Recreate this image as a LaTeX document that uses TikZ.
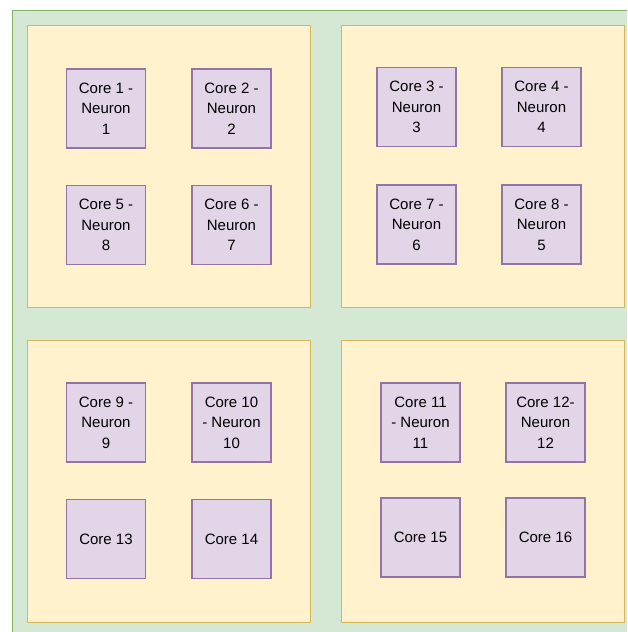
\documentclass[tikz,border=0pt]{standalone}
\usepackage{fontspec}
\setmainfont{Liberation Sans}
\definecolor{boardfill}{HTML}{D5E8D4}
\definecolor{boarddraw}{HTML}{82B366}
\definecolor{chipfill}{HTML}{FFF2CC}
\definecolor{chipdraw}{HTML}{D6B656}
\definecolor{corefill}{HTML}{E1D5E7}
\definecolor{coredraw}{HTML}{9673A6}
\tikzset{%
  every board/.style={
    rectangle,
    draw=boarddraw,
    fill=boardfill,
    line width=1pt,
    inner sep=0pt
  },
  every chip/.style={
    rectangle,
    draw=chipdraw,
    fill=chipfill,
    line width=1pt,
    minimum width=283pt,
    minimum height=282pt,
    inner sep=0pt
  },
  every core/.style={
    rectangle,
    draw=coredraw,
    fill=corefill,
    line width=1.1pt,
    minimum width=79pt,
    minimum height=79pt,
    inner sep=0pt,
    align=center,
    text=black,
    font=\fontsize{15}{20.5}\selectfont
  },
}

\begin{document}
\begin{tikzpicture}[x=1pt,y=-1pt]
  \useasboundingbox (0,0) rectangle (627,632);
  \clip (0,0) rectangle (627,632);
  \node [every board, minimum width=630pt, minimum height=635pt] (board) at (327,327.5) { };
  \node [every chip] (chip-1) at (168.5,166) { };
  \node [every chip] (chip-2) at (483,166) { };
  \node [every chip] (chip-3) at (168.5,481) { };
  \node [every chip] (chip-4) at (483,481) { };
  % top left
  \node [every core] (c-1) at (106,108.5) {Core 1 -\\Neuron\\1};
  \node [every core] (c-2) at (231.5,108.5) {Core 2 -\\Neuron\\2};
  \node [every core] (c-5) at (106,225) {Core 5 -\\Neuron\\8};
  \node [every core] (c-6) at (231.5,225) {Core 6 -\\Neuron\\7};
  % top right
  \node [every core] (c-3) at (416.5,107) {Core 3 -\\Neuron\\3};
  \node [every core] (c-4) at (541.5,107) {Core 4 -\\Neuron\\4};
  \node [every core] (c-7) at (416.5,224.5) {Core 7 -\\Neuron\\6};
  \node [every core] (c-8) at (541.5,224.5) {Core 8 -\\Neuron\\5};
  % bottom left
  \node [every core] (c-9) at (106,422.5) {Core 9 -\\Neuron\\9};
  \node [every core] (c-10) at (231.5,422.5) {Core 10\\- Neuron\\10};
  \node [every core] (c-13) at (106,539) {Core 13};
  \node [every core] (c-14) at (231.5,539) {Core 14};
  % bottom right
  \node [every core] (c-11) at (420.5,422.5) {Core 11\\- Neuron\\11};
  \node [every core] (c-12) at (545.5,422.5) {Core 12-\\Neuron\\12};
  \node [every core] (c-15) at (420.5,537.5) {Core 15};
  \node [every core] (c-16) at (545.5,537.5) {Core 16};
\end{tikzpicture}
\end{document}
